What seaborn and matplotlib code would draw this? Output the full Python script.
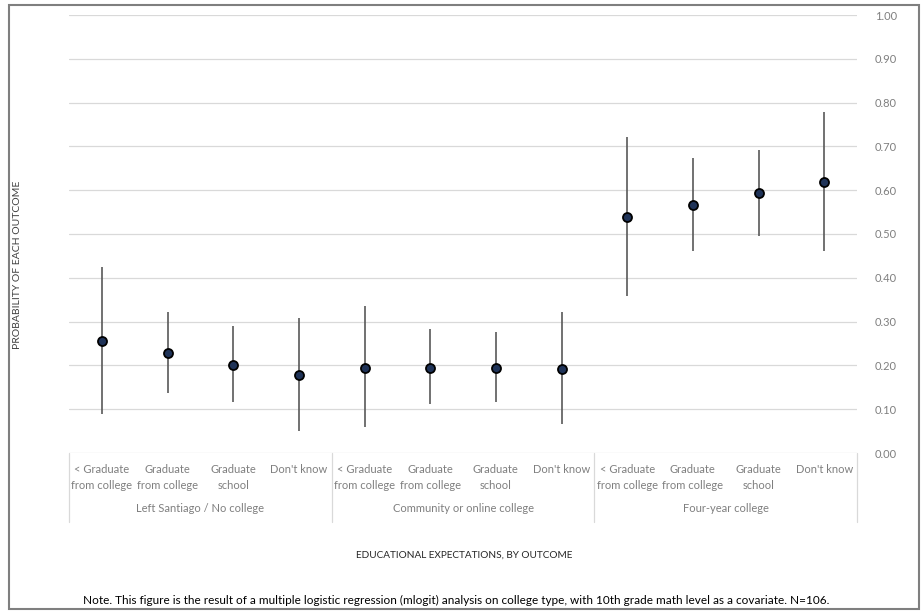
import numpy as np
import pandas as pd
import matplotlib
matplotlib.use("Agg")
import matplotlib.pyplot as plt
import matplotlib.patches as patches
import seaborn as sns

# predicted probabilities
groups = ["Left Santiago / No college", "Community or online college", "Four-year college"]
levels = ["< Graduate\nfrom college", "Graduate\nfrom college", "Graduate\nschool", "Don't know"]
estimate = [0.256, 0.228, 0.202, 0.177,
            0.195, 0.195, 0.195, 0.192,
            0.539, 0.567, 0.593, 0.619]
lower = [0.089, 0.136, 0.117, 0.051,
         0.059, 0.113, 0.117, 0.066,
         0.359, 0.462, 0.496, 0.462]
upper = [0.425, 0.323, 0.290, 0.309,
         0.336, 0.283, 0.276, 0.323,
         0.721, 0.674, 0.692, 0.779]
yticks = [0.0, 0.1, 0.2, 0.3, 0.4, 0.5, 0.6, 0.7, 0.8, 0.9, 1.0]

df = pd.DataFrame({
    "group": np.repeat(groups, len(levels)),
    "level": levels * len(groups),
    "est": estimate,
    "lo": lower,
    "hi": upper,
})
df["pos"] = np.arange(len(df))

sns.set_style("white")
plt.rcParams["font.family"] = ["Lato", "DejaVu Sans"]

W, H = 921, 614
fig = plt.figure(figsize=(W / 100, H / 100), dpi=100)
ax = fig.add_axes([69 / W, 1 - 453 / H, (857 - 69) / W, (453 - 15) / H])

grid_c = "#d9d9d9"
for t in yticks:
    ax.axhline(t, color=grid_c, lw=0.9, zorder=0)

# confidence intervals
ax.vlines(df["pos"], df["lo"], df["hi"], color="#595959", lw=1.2, zorder=2)
sns.scatterplot(data=df, x="pos", y="est", ax=ax, s=42, color="#1f3358",
                edgecolor="black", linewidth=1.3, zorder=3, legend=False)

ax.set_xlim(-0.5, len(df) - 0.5)
ax.set_ylim(0, 1)
for s in ax.spines.values():
    s.set_visible(False)

ax.yaxis.tick_right()
ax.set_yticks(yticks)
ax.set_yticklabels([f"{t:.2f}" for t in yticks], color="#7f7f7f", fontsize=8)
ax.tick_params(axis="y", length=0, pad=13)

ax.set_xticks(df["pos"])
ax.set_xticklabels(df["level"], fontsize=8, color="#7f7f7f", linespacing=1.55,
                   va="top")
ax.tick_params(axis="x", length=0, pad=8)
ax.set_xlabel("")
ax.set_ylabel("")

# category table lines and group labels
for k in range(len(groups) + 1):
    ax.plot([k * len(levels) - 0.5] * 2, [0, -0.158], color=grid_c, lw=0.9,
            clip_on=False, transform=ax.transData)
for k, g in enumerate(groups):
    ax.text(k * len(levels) + 1.5, -0.1256, g, ha="center", va="center",
            fontsize=8, color="#7f7f7f")

fig.text(18 / W, 1 - 265 / H, "PROBABILITY OF EACH OUTCOME", rotation=90,
         ha="center", va="center", fontsize=7.5, color="#404040")
fig.text(464 / W, 1 - 555 / H, "EDUCATIONAL EXPECTATIONS, BY OUTCOME",
         ha="center", va="center", fontsize=7.2, color="#262626")
fig.text(83 / W, 1 - 600 / H,
         "Note. This figure is the result of a multiple logistic regression (mlogit) analysis on college type, "
         "with 10th grade math level as a covariate. N=106.",
         ha="left", va="center", fontsize=8.5, color="black")

fig.patches.append(patches.Rectangle((9 / W, 1 - 609 / H), (919 - 9) / W, (609 - 5) / H,
                                     transform=fig.transFigure, fill=False,
                                     edgecolor="#7f7f7f", lw=1.5))

fig.savefig("out.png", dpi=100)
